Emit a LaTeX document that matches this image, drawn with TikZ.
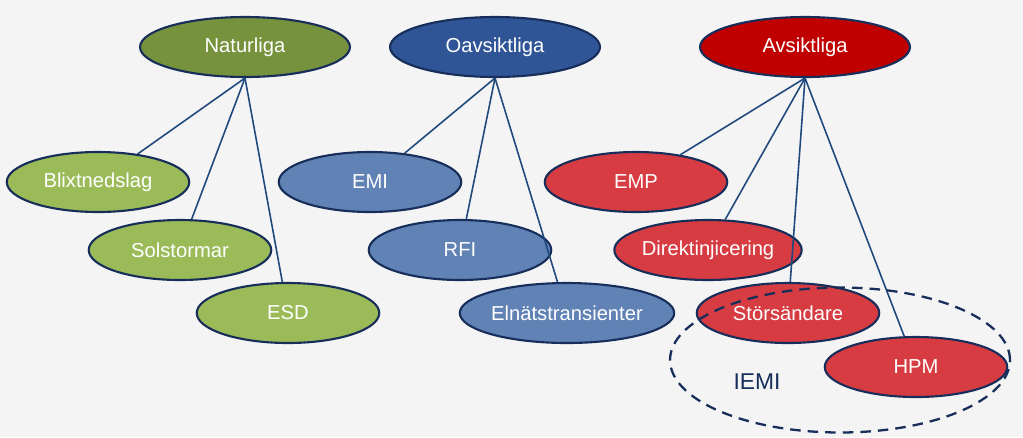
\documentclass[tikz,border=0pt]{standalone}
\usepackage{fontspec}
\setmainfont{Liberation Sans}
\usetikzlibrary{shapes.geometric, positioning, backgrounds}
\definecolor{cNatDark}{RGB}{118, 146, 60}
\definecolor{cNatLight}{RGB}{155, 187, 89}
\definecolor{cOavDark}{RGB}{47, 85, 151}
\definecolor{cOavLight}{RGB}{96, 130, 180}
\definecolor{cAvsDark}{RGB}{192, 0, 0}
\definecolor{cAvsLight}{RGB}{214, 60, 66}
\definecolor{cEdge}{RGB}{23, 45, 90}
\definecolor{lineColor}{RGB}{31, 73, 125}
\definecolor{bgCanvas}{RGB}{244, 244, 244}
\tikzset{
    font=\fontsize{11.5}{13}\selectfont,
    % --- ellipser ---
    baseEll/.style={
        ellipse, draw=cEdge, line width=1.2pt, text=white,
        minimum height=1.2cm, inner sep=0pt
    },
    styleTop/.style={baseEll, minimum width=4.2cm},
    styleChild/.style={baseEll, minimum width=3.65cm},
    % --- linjer ---
    conn/.style={draw=lineColor, line width=0.9pt}
}
\begin{document}
\begin{tikzpicture}[x=0.02cm, y=-0.02cm]

	% --- bakgrund ---
	\fill[bgCanvas] (0,0) rectangle (1023,437);
	\useasboundingbox (0,0) rectangle (1023,437);

	% --- huvudgrupper ---
	\node [styleTop, fill=cNatDark] (nat) at (245,47) {Naturliga};
	\node [styleTop, fill=cOavDark] (oav) at (495,47) {Oavsiktliga};
	\node [styleTop, fill=cAvsDark] (avs) at (805,47) {Avsiktliga};

	% --- Naturliga ---
	\node [styleChild, fill=cNatLight] (n1) at (98,182) {Blixtnedslag};
	\node [styleChild, fill=cNatLight] (n2) at (180,250) {Solstormar};
	\node [styleChild, fill=cNatLight] (n3) at (288,313) {ESD};

	% --- Oavsiktliga ---
	\node [styleChild, fill=cOavLight] (o1) at (370,182) {EMI};
	\node [styleChild, fill=cOavLight] (o2) at (460,250) {RFI};
	\node [styleChild, fill=cOavLight] (o3) at (567,313) {Elnätstransienter};

	% --- Avsiktliga ---
	\node [styleChild, fill=cAvsLight] (a1) at (636,182) {EMP};
	\node [styleChild, fill=cAvsLight] (a2) at (708,250) {Direktinjicering};
	\node [styleChild, fill=cAvsLight] (a3) at (788,313) {Störsändare};
	\node [styleChild, fill=cAvsLight] (a4) at (916,367) {HPM};

	% --- linjer ---
	\foreach \p/\c in {nat/n, oav/o} {
			\foreach \i in {1,2,3}
				\draw [conn] (\p.south) -- (\c\i);
		}
	\foreach \i in {1,...,4}
		\draw [conn] (avs.south) -- (a\i);

	% --- IEMI ---
	\node [ellipse, draw=cEdge, line width=1.3pt, dash pattern=on 6pt off 4pt,
		minimum width=6.8cm, minimum height=2.9cm] (iemi) at (840,360) {};
	\node [text=cEdge, font=\fontsize{13}{15}\selectfont] (iemiLbl) at (757,382) {IEMI};

\end{tikzpicture}
\end{document}
